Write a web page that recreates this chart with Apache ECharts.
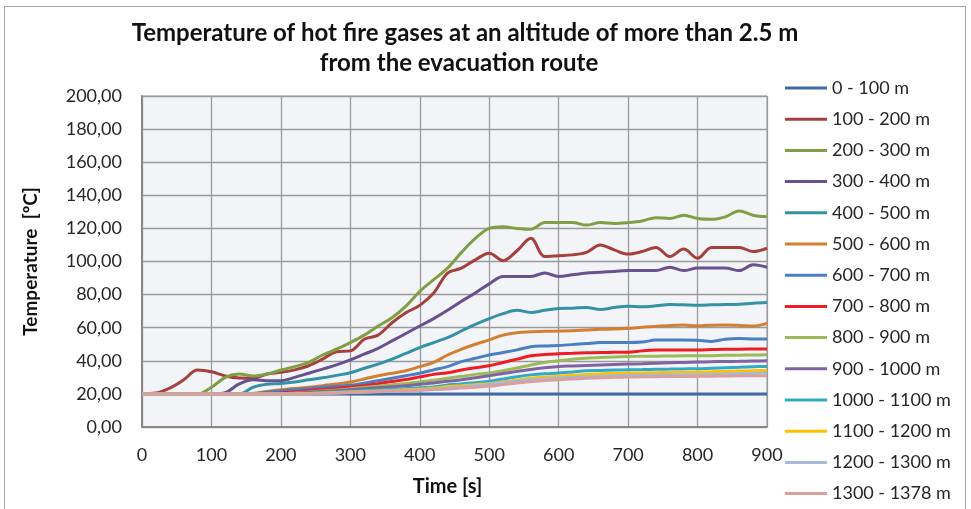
<!DOCTYPE html>
<html>
<head>
<meta charset="utf-8">
<script src="https://cdn.jsdelivr.net/npm/echarts@6/dist/echarts.min.js"></script>
<style>
  html, body { margin: 0; padding: 0; background: #fff; }
  #frame { position: absolute; left: 4px; top: 6px; width: 962px; height: 520px; border: 1px solid #a6a6a6; box-sizing: border-box; }
  #chart { position: absolute; left: 0; top: 0; width: 971px; height: 509px; }
</style>
</head>
<body>
<div id="frame"></div>
<div id="chart"></div>
<script>
// time [s]
const times = [0, 20, 40, 60, 80, 100, 120, 140, 160, 180, 200, 220, 240, 260, 280, 300, 320, 340, 360, 380,
  400, 420, 440, 460, 480, 500, 520, 540, 560, 580, 600, 620, 640, 660, 680, 700, 720, 740, 760, 780,
  800, 820, 840, 860, 880, 900];

const seriesNames = ['0 - 100 m', '100 - 200 m', '200 - 300 m', '300 - 400 m', '400 - 500 m', '500 - 600 m',
  '600 - 700 m', '700 - 800 m', '800 - 900 m', '900 - 1000 m', '1000 - 1100 m', '1100 - 1200 m',
  '1200 - 1300 m', '1300 - 1378 m'];

const seriesColors = ['#3d6aa5', '#a5403c', '#7f9f45', '#69508f', '#3592a6', '#d47f30', '#4a7fc1',
  '#ee1c25', '#9bbb59', '#8064a2', '#2eabc9', '#ffc000', '#a5b9d9', '#d9a09f'];

// temperature [°C] per route section
const t0_100 = [20, 20, 20, 20, 20, 20, 20, 20, 20, 20, 20, 20, 20, 20, 20, 20, 20, 20, 20, 20,
  20, 20, 20, 20, 20, 20, 20, 20, 20, 20, 20, 20, 20, 20, 20, 20, 20, 20, 20, 20,
  20, 20, 20, 20, 20, 20];
const t100_200 = [20, 20.5, 23.5, 28.5, 34.4, 33.4, 30.8, 29.6, 29.5, 32, 33, 34.5, 37, 41, 45.5, 46, 53, 55.5, 63, 69,
  73.5, 81, 93, 96, 101, 105, 100.5, 106.5, 114, 103, 103.5, 104, 105.5, 110, 107, 104.5, 106, 108.5, 103, 107.5,
  102, 108.5, 108.5, 108.5, 106, 108];
const t200_300 = [20, 20, 20, 20, 20, 24, 30, 32, 30.8, 32, 34.4, 36.5, 39, 43.5, 47, 51, 55.5, 61, 66, 73,
  82, 89, 96, 105.5, 114, 120, 121, 120, 119.5, 123.5, 123.5, 123.5, 122, 123.5, 123, 123.5, 124.5, 126.5, 126, 128,
  126, 125.5, 127, 130.5, 128, 127];
const t300_400 = [20, 20, 20, 20, 20, 20, 20.8, 26, 28.5, 28, 28, 30, 32.5, 35, 37.5, 40.5, 44, 47.5, 52, 56.5,
  61, 65.5, 70.5, 76, 81, 86.5, 91, 91, 91, 93, 91, 92, 93, 93.5, 94, 94.5, 94.5, 94.5, 96.5, 94.5,
  96, 96, 96, 94.5, 98, 96.5];
const t400_500 = [20, 20, 20, 20, 20, 20, 20, 20, 24, 25.8, 26.3, 27.2, 28.5, 29.7, 31.2, 32.8, 35.5, 38, 41, 44.5,
  48, 51, 54, 58, 62, 65.5, 68.5, 70.5, 69.2, 70.5, 71.6, 71.8, 72.2, 71, 72.2, 73, 72.6, 73.2, 74, 73.8,
  73.6, 73.8, 74, 74.2, 74.8, 75.2];
const t500_600 = [20, 20, 20, 20, 20, 20, 20, 20, 20.3, 21.5, 22.5, 23.3, 24, 25, 26, 27.2, 29, 31, 32.5, 34,
  36.5, 39, 43.5, 47, 50, 52.6, 55.5, 57, 57.5, 57.8, 58, 58.2, 58.6, 59, 59.2, 59.6, 60.2, 60.8, 61.3, 61.6,
  61.2, 61.5, 61.6, 61.4, 61, 62.6];
const t600_700 = [20, 20, 20, 20, 20, 20, 20, 20, 20, 21, 21.8, 22.5, 23.2, 24, 24.6, 25.2, 26.5, 28, 29.5, 31,
  32.5, 34.5, 36.5, 39.5, 41.5, 43.5, 45, 46.6, 48.5, 49, 49.3, 49.8, 50.4, 51, 51, 51, 51.3, 52.5, 52.6, 52.6,
  52.4, 51.7, 53, 53.4, 53.2, 53.2];
const t700_800 = [20, 20, 20, 20, 20, 20, 20, 20, 20, 20, 20.6, 21.2, 22, 22.6, 23.3, 24.1, 25, 26.2, 27.5, 28.7,
  30.3, 31.8, 32.8, 34.4, 35.8, 37, 39, 41, 43, 43.8, 44.2, 44.5, 44.8, 45, 45.1, 45.2, 46, 46.6, 46.6, 46.6,
  46.6, 46.8, 47, 47, 47.1, 47.2];
const t800_900 = [20, 20, 20, 20, 20, 20, 20, 20, 20, 20, 20, 20.6, 21.2, 21.8, 22.4, 23.1, 23.9, 24.7, 25.5, 26.3,
  27.2, 28.2, 29.4, 30.6, 31.8, 32.6, 34, 35.6, 37.5, 39, 40, 41, 41.6, 42, 42.3, 42.6, 42.7, 42.8, 42.9, 43,
  43, 43.1, 43.3, 43.4, 43.5, 43.6];
const t900_1000 = [20, 20, 20, 20, 20, 20, 20, 20, 20, 20, 20, 20.4, 20.9, 21.4, 21.9, 22.5, 23.1, 23.7, 24.3, 24.9,
  25.8, 26.6, 27.6, 28.5, 29.8, 31, 32.3, 33.6, 34.8, 35.8, 36.6, 36.9, 37.2, 37.5, 37.8, 38, 38.2, 38.5, 38.8, 39,
  39.2, 39.4, 39.6, 39.7, 39.9, 40];
const t1000_1100 = [20, 20, 20, 20, 20, 20, 20, 20, 20, 20, 20, 20, 20.4, 20.8, 21.2, 21.6, 22, 22.4, 22.8, 23.2,
  23.7, 24.2, 25.4, 26, 26.8, 27.6, 29, 30.4, 31.5, 32.2, 32.6, 33.3, 34, 34.2, 34.4, 34.6, 34.7, 34.9, 35, 35.1,
  35.2, 35.5, 35.8, 36.1, 36.4, 36.6];
const t1100_1200 = [20, 20, 20, 20, 20, 20, 20, 20, 20, 20, 20, 20, 20.3, 20.6, 20.9, 21.2, 21.5, 21.8, 22.1, 22.5,
  22.9, 23.4, 24.5, 25, 25.6, 26.2, 27.3, 28.4, 29.4, 30.1, 30.6, 31.2, 31.7, 32.1, 32.4, 32.6, 32.7, 32.8, 33, 33.1,
  33.2, 33.4, 33.6, 33.8, 34, 34.2];
const t1200_1300 = [20, 20, 20, 20, 20, 20, 20, 20, 20, 20, 20, 20, 20, 20.3, 20.6, 20.9, 21.2, 21.5, 21.8, 22.1,
  22.4, 22.8, 23.5, 24.2, 25, 25.8, 26.8, 27.7, 28.5, 29.1, 29.6, 30, 30.4, 30.7, 31, 31.2, 31.3, 31.4, 31.5, 31.5,
  31.6, 31.8, 32, 32.2, 32.4, 32.6];
const t1300_1378 = [20, 20, 20, 20, 20, 20, 20, 20, 20, 20, 20, 20, 20, 20.2, 20.5, 20.8, 21, 21.3, 21.6, 21.9,
  22.2, 22.6, 23, 23.5, 24, 24.6, 25.6, 26.6, 27.4, 28.1, 28.6, 29, 29.4, 29.7, 30, 30.2, 30.3, 30.4, 30.5, 30.5,
  30.6, 30.7, 30.8, 30.9, 30.9, 31];

const allValues = [t0_100, t100_200, t200_300, t300_400, t400_500, t500_600, t600_700, t700_800,
  t800_900, t900_1000, t1000_1100, t1100_1200, t1200_1300, t1300_1378];

const font = 'Lato';
const chart = echarts.init(document.getElementById('chart'));

const titleStyle = { fontFamily: font, fontWeight: 'bold', fontSize: 24, fill: '#111', align: 'center', verticalAlign: 'middle' };

const option = {
  animation: false,
  // two-line title, the original sits slightly left of the page centre
  graphic: [
    { type: 'text', x: 465, y: 33, style: Object.assign({ text: 'Temperature of hot fire gases at an altitude of more than 2.5 m' }, titleStyle) },
    { type: 'text', x: 459, y: 63, style: Object.assign({ text: 'from the evacuation route' }, titleStyle) }
  ],
  grid: {
    left: 142,
    top: 96,
    right: 204,
    bottom: 82,
    show: true,
    backgroundColor: '#f3f4f7',
    borderColor: '#9a9a9a',
    borderWidth: 1
  },
  legend: {
    orient: 'vertical',
    left: 785,
    top: 78,
    padding: 0,
    itemWidth: 42,
    itemHeight: 3,
    itemGap: 11.2,
    icon: 'rect',
    data: seriesNames,
    textStyle: {
      fontFamily: font,
      fontSize: 18,
      lineHeight: 20,
      color: '#262626'
    }
  },
  xAxis: {
    type: 'value',
    min: 0,
    max: 900,
    interval: 100,
    name: 'Time [s]',
    nameLocation: 'middle',
    nameGap: 50,
    nameTextStyle: { fontFamily: font, fontWeight: 'bold', fontSize: 20, color: '#111', padding: [0, 14, 0, 0] },
    axisLine: { lineStyle: { color: '#878787', width: 2 } },
    axisTick: { show: false },
    axisLabel: { fontFamily: font, fontSize: 18, color: '#262626', margin: 19 },
    splitLine: { lineStyle: { color: '#9a9a9a', width: 1.3 } }
  },
  yAxis: {
    type: 'value',
    min: 0,
    max: 200,
    interval: 20,
    name: 'Temperature  [ºC]',
    nameLocation: 'middle',
    nameGap: 102,
    nameTextStyle: { fontFamily: font, fontWeight: 'bold', fontSize: 19, color: '#111' },
    axisLine: { show: true, lineStyle: { color: '#878787', width: 2 } },
    axisTick: { show: false },
    axisLabel: {
      fontFamily: font,
      fontSize: 18,
      color: '#262626',
      margin: 20,
      formatter: v => v.toFixed(2).replace('.', ',')
    },
    splitLine: { lineStyle: { color: '#9a9a9a', width: 1.3 } }
  },
  series: seriesNames.map((name, i) => ({
    name: name,
    type: 'line',
    data: times.map((t, j) => [t, allValues[i][j]]),
    smooth: 0.35,
    symbol: 'none',
    lineStyle: { width: 3, color: seriesColors[i] },
    itemStyle: { color: seriesColors[i] }
  }))
};

chart.setOption(option);
</script>
</body>
</html>
